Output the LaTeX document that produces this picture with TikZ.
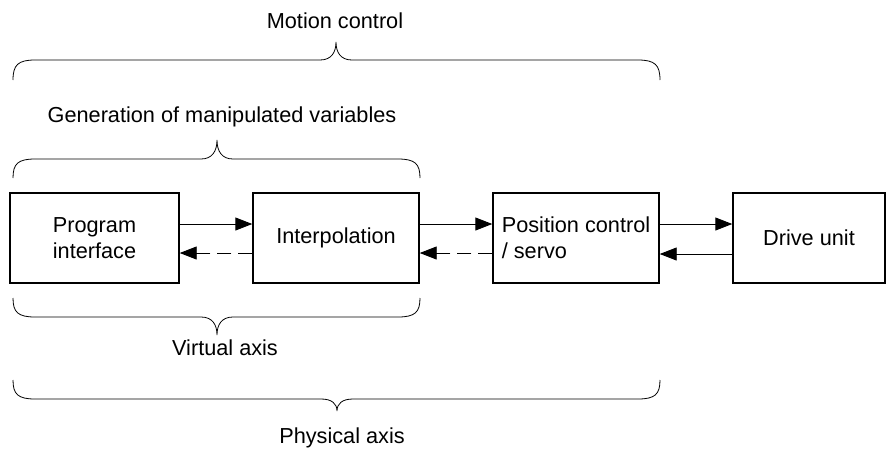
\documentclass[tikz,border=0pt]{standalone}
\usepackage{fontspec}
\setmainfont{Liberation Sans}
\usetikzlibrary{arrows.meta}

\newcommand\lblfont{\fontsize{21.7}{26}\selectfont}

% curly brace: left x, right x, tip x, line y, end y, tip y
\newcommand\curlybrace[6]{%
  \draw[bracestyle] (#1,#5)
    .. controls (#1,{#4+0.25*(#5-#4)}) and ({#1+5},#4) .. ({#1+22},#4)
    -- ({#3-16},#4)
    .. controls ({#3-5},#4) and (#3,{#4+0.4*(#6-#4)}) .. (#3,#6)
    .. controls (#3,{#4+0.4*(#6-#4)}) and ({#3+5},#4) .. ({#3+16},#4)
    -- ({#2-22},#4)
    .. controls ({#2-5},#4) and (#2,{#4+0.25*(#5-#4)}) .. (#2,#5);}

\begin{document}
\begin{tikzpicture}[x=1pt,y=-1pt,
  block/.style={draw, line width=1.4pt, minimum height=90pt, inner sep=0pt,
                align=left, font=\lblfont},
  caption/.style={font=\lblfont, anchor=base, inner sep=0pt},
  bracestyle/.style={line width=0.8pt},
  flow/.style={line width=0.9pt, -{Triangle[length=17pt,width=13pt]}},
  back/.style={flow, dash pattern=on 14pt off 7pt}]

\useasboundingbox (0,0) rectangle (887,448);

% functional blocks
\node[block, minimum width=169pt] (prog)   at (94.5,238) {Program\\interface};
\node[block, minimum width=166pt] (interp) at (336,238)  {Interpolation};
\node[block, minimum width=166pt] (servo)  at (576,238)  {Position control\\/ servo};
\node[block, minimum width=152pt] (drive)  at (809,238)  {Drive unit};

% signal paths
\draw[flow] ([yshift=14pt]prog.east)   -- ([yshift=14pt]interp.west);
\draw[back] ([yshift=-15pt]interp.west) -- ([yshift=-15pt]prog.east);
\draw[flow] ([yshift=14pt]interp.east) -- ([yshift=14pt]servo.west);
\draw[back] ([yshift=-15pt]servo.west) -- ([yshift=-15pt]interp.east);
\draw[flow] ([yshift=14pt]servo.east)  -- ([yshift=14pt]drive.west);
\draw[flow] ([yshift=-16pt]drive.west) -- ([yshift=-16pt]servo.east);

% grouping braces
\curlybrace{13}{660}{336}{60}{80}{42}
\curlybrace{13}{420}{217}{159}{178}{140}
\curlybrace{13}{420}{217}{317}{298}{335}
\curlybrace{13}{660}{337}{399}{380}{411}

\node[caption] (motion)  at (335,28)  {Motion control};
\node[caption] (gen)     at (222,122) {Generation of manipulated variables};
\node[caption] (virtual) at (225,355) {Virtual axis};
\node[caption] (phys)    at (342,443) {Physical axis};
\end{tikzpicture}
\end{document}
